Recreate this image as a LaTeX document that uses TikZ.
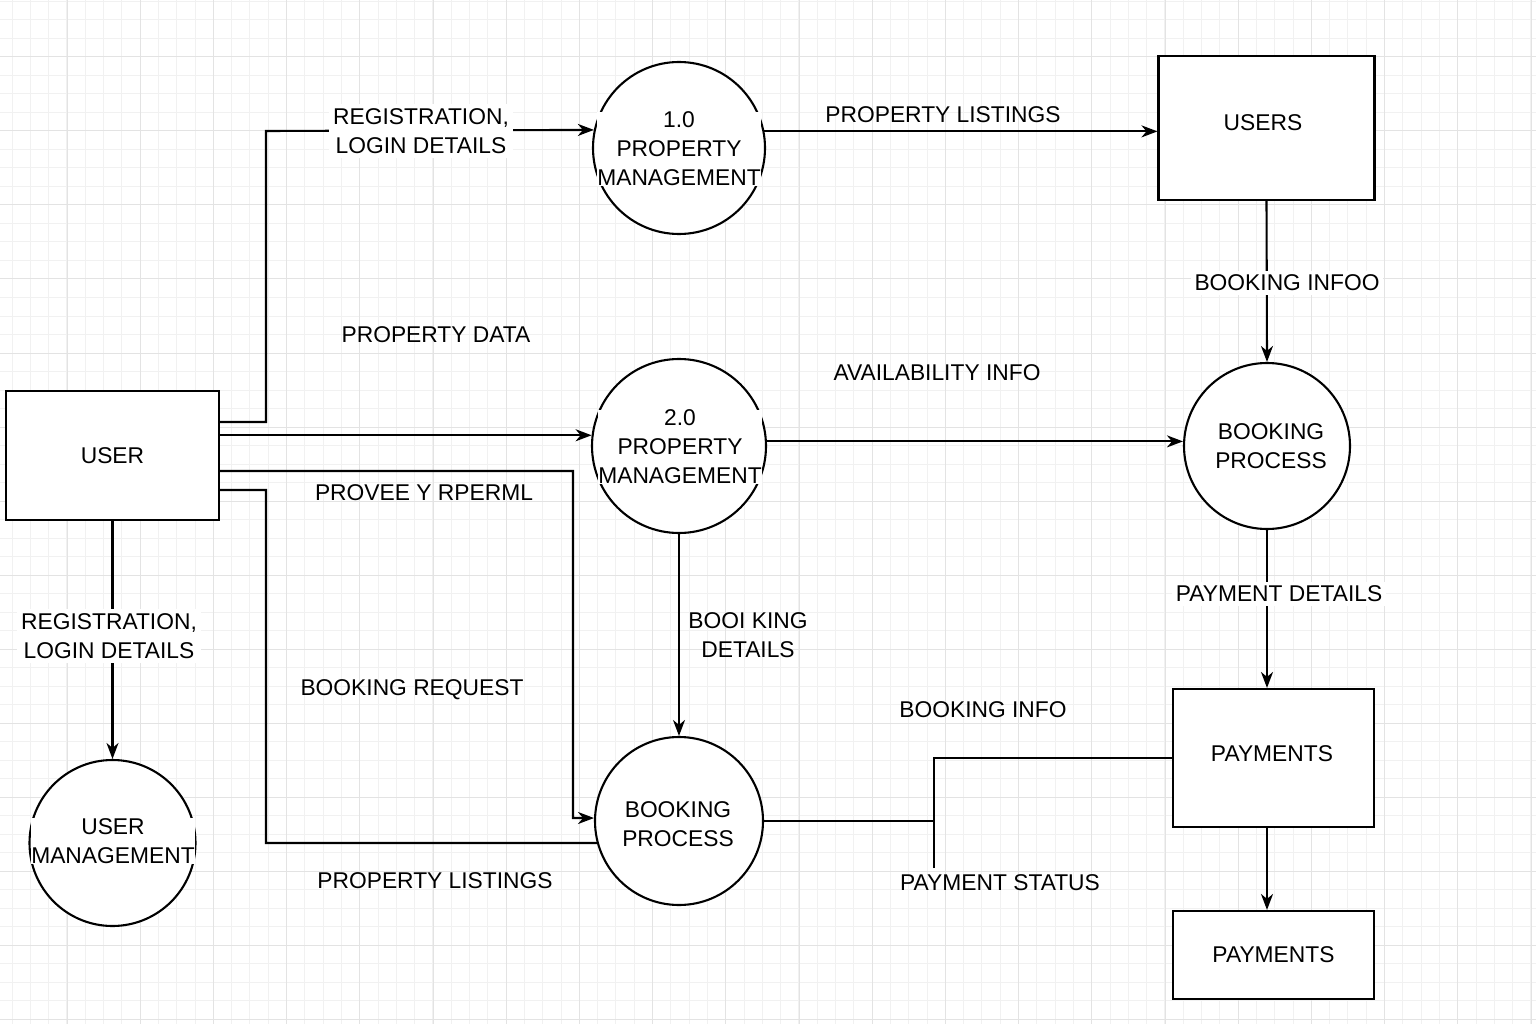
\documentclass[tikz,border=0pt]{standalone}
\usepackage{fontspec}
\setmainfont{Liberation Sans}
\usetikzlibrary{arrows.meta}
\definecolor{gridminor}{HTML}{F1F1F1}
\definecolor{gridmajor}{HTML}{E3E3E3}
\begin{document}
\begin{tikzpicture}[x=1pt,y=-1pt,
  font=\fontsize{22.8}{29}\selectfont,
  line/.style={line width=2.1pt},
  arr/.style={line width=2.1pt,-{Stealth[length=16pt,width=12pt,inset=5pt]}},
  proc/.style={circle,draw,line width=2.1pt,fill=white,inner sep=0pt},
  store/.style={draw,line width=2.1pt,fill=white,inner sep=0pt},
  lbl/.style={align=center,inner sep=0pt},
  blbl/.style={align=center,fill=white,inner sep=4pt},
  ptxt/.style={align=center,inner sep=0pt,fill=white}]
\useasboundingbox (0,0) rectangle (1536,1024);
\fill[white] (0,0) rectangle (1536,1024);
% grid
\foreach \i in {0,...,83} {
  \draw[gridminor,line width=1pt] ({12+18.3*\i},0) -- ({12+18.3*\i},1024);
}
\foreach \j in {-3,...,52} {
  \draw[gridminor,line width=1pt] (0,{57+18.5*\j}) -- (1536,{57+18.5*\j});
}
\foreach \i in {0,...,20} {
  \draw[gridmajor,line width=1pt] ({67+73.2*\i},0) -- ({67+73.2*\i},1024);
}
\foreach \j in {0,...,13} {
  \draw[gridmajor,line width=1pt] (0,{57+74*\j}) -- (1536,{57+74*\j});
}

% nodes
\node[store,minimum width=213pt,minimum height=129pt] (user) at (112.5,455.5) {USER};
\node[proc,minimum size=166pt] (um) at (112.5,843) {};
\node[ptxt] (umt) at (113,841) {USER\\MANAGEMENT};
\node[proc,minimum size=172pt] (p1) at (679,148) {};
\node[ptxt] (p1t) at (679,149) {1.0\\PROPERTY\\MANAGEMENT};
\node[proc,minimum size=174pt] (p2) at (679,446) {};
\node[ptxt] (p2t) at (680,447) {2.0\\PROPERTY\\MANAGEMENT};
\node[proc,minimum size=168pt] (bp1) at (679,821) {};
\node[ptxt] (bp1t) at (678,824) {BOOKING\\PROCESS};
\node[proc,minimum size=166pt] (bp2) at (1267,446) {};
\node[ptxt] (bp2t) at (1271,446) {BOOKING\\PROCESS};
\node[store,minimum width=216pt,minimum height=144pt] (users) at (1266.5,128) {};
\node[lbl] (userst) at (1263,123) {USERS};
\node[store,minimum width=201pt,minimum height=138pt] (pay1) at (1273.5,758) {};
\node[lbl] (pay1t) at (1272,754) {PAYMENTS};
\node[store,minimum width=201pt,minimum height=88pt] (pay2) at (1273.5,955) {PAYMENTS};
\coordinate (jt) at (934,758);
\coordinate (jb) at (934,868);

% connectors
\draw[arr] ([yshift=33.5pt]user.east) -| (266,131) -- (p1.168.6);
\node[blbl] (l1) at (421,131) {REGISTRATION,\\LOGIN DETAILS};
\draw[arr] (p1.11.4) -- (p1.11.4 -| users.west);
\draw[arr] (users.south) -- (bp2.north);
\node[blbl] (l3) at (1287,283) {BOOKING INFOO};
\draw[arr] (p2.173.4 -| user.east) -- (p2.173.4);
\draw[arr] (p2.3.3) -- (p2.3.3 -| bp2.west);
\draw[arr] ([yshift=-15.5pt]user.east) -| (573,818) -- (bp1.178);
\draw[line] ([yshift=-34.5pt]user.east) -| (266,843) -- (bp1.195.2);
\draw[arr] (p2.south) -- (bp1.north);
\draw[arr] (user.south) -- (um.north);
\node[blbl] (l9) at (109,636) {REGISTRATION,\\LOGIN DETAILS};
\draw[arr] (bp2.south) -- (bp2.south |- pay1.north);
\node[blbl] (l10) at (1279,594) {PAYMENT DETAILS};
\draw[line] (bp1.east) -- (bp1.east -| jt);
\draw[line] (jb) -- (jt) -- (pay1.west);
\draw[arr] (pay1.south -| bp2.south) -- (pay2.north -| bp2.south);

% free labels
\node[lbl] (t1) at (943,115) {PROPERTY LISTINGS};
\node[lbl] (t2) at (436,335) {PROPERTY DATA};
\node[lbl] (t3) at (937,373) {AVAILABILITY INFO};
\node[lbl] (t4) at (424,493) {PROVEE Y RPERML};
\node[lbl] (t5) at (412,690) {BOOKING REQUEST};
\node[lbl] (t6) at (435,881) {PROPERTY LISTINGS};
\node[lbl] (t7) at (748,635) {BOOI KING\\DETAILS};
\node[lbl] (t8) at (983,710) {BOOKING INFO};
\node[lbl] (t9) at (1000,883) {PAYMENT STATUS};
\end{tikzpicture}
\end{document}
